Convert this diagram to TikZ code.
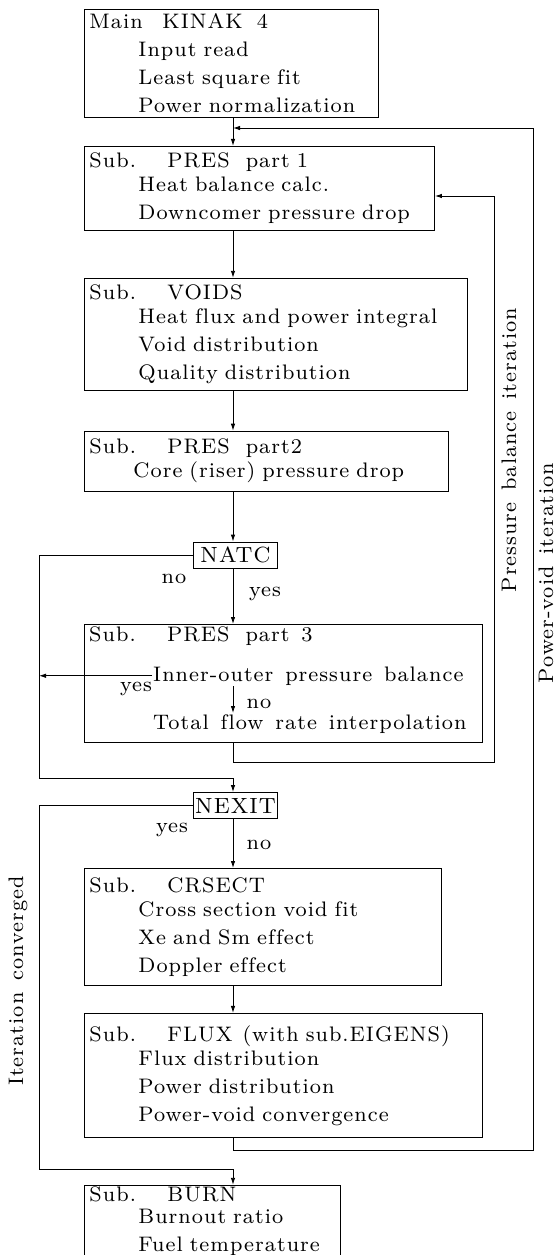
\documentclass[tikz,border=0pt]{standalone}
\usepackage{fontspec}
\newfontfamily\chartfont{lmroman8-regular.otf}[LetterSpace=5,WordSpace=1.4,Ligatures=NoCommon]
\usepackage{tikz}
\usetikzlibrary{arrows.meta, positioning}
\newcommand{\ind}{\hspace*{49pt}}
\newcommand{\head}[3]{\makebox[#1][l]{#2}#3}

\begin{document}
\begin{tikzpicture}[x=1pt, y=1pt, >=Latex,
  box/.style={draw, line width=0.9pt, align=left, inner xsep=5pt, inner ysep=3pt, font=\chartfont\fontsize{21}{28}\selectfont},
  test/.style={draw, line width=0.9pt, inner sep=2pt, minimum width=84pt, minimum height=26pt, font=\chartfont\fontsize{22}{24}\selectfont},
  txt/.style={inner sep=1pt, font=\chartfont\fontsize{21}{24}\selectfont},
  wire/.style={line width=0.9pt},
  arr/.style={wire, -{Latex[length=7pt,width=4.5pt]}}]
\useasboundingbox (0,0) rectangle (558,-1255);
\coordinate (trunk) at (233,0);
\coordinate (leftx) at (39,0);
\coordinate (pbal) at (494,-196);
\coordinate (pbalB) at (494,-762);
\coordinate (pv) at (533,-128);
\coordinate (pvB) at (533,-1150);
\coordinate (joinA) at (233,-778);
\coordinate (joinB) at (233,-1169);

\node[box, anchor=north west, text width=284pt, minimum height=108pt] (main) at (84,-9) {\head{73pt}{Main}{KINAK\hspace{14pt}4}\\\ind Input read\\\ind Least square fit\\\ind Power normalization};
\node[box, below=28pt of main.south west, anchor=north west, text width=340pt, minimum height=84pt] (presA) {\head{78pt}{Sub.}{PRES\hspace{16pt}part 1}\\[-4pt]\ind Heat balance calc.\\\ind Downcomer pressure drop};
\node[box, below=47pt of presA.south west, anchor=north west, text width=373pt, minimum height=112pt] (voids) {\head{78pt}{Sub.}{VOIDS}\\[-4pt]\ind Heat flux and power integral\\\ind Void distribution\\\ind Quality distribution};
\node[box, below=40pt of voids.south west, anchor=north west, text width=354pt, minimum height=60pt] (presB) {\head{78pt}{Sub.}{PRES\hspace{16pt}part2}\\[-4pt]\hspace*{44pt}Core (riser) pressure drop};
\node[test] (natc) at (235.5,-555) {NATC};

% part 3 holds the pressure balance test
\node[box, anchor=north west, text width=388pt, minimum height=118pt] (presC) at (84,-624) {};
\node[txt, anchor=north west, inner xsep=5pt, inner ysep=3pt] (presCt) at (presC.north west) {\head{78pt}{Sub.}{PRES\hspace{16pt}part 3}};
\node[txt, anchor=base west] (inner) at (152,-681) {Inner-outer pressure balance};
\node[txt, anchor=base west] (total) at (152,-729) {Total flow rate interpolation};

\node[test] (nexit) at (235.5,-805.5) {NEXIT};
\node[box, anchor=north west, text width=347pt, minimum height=117pt] (crsect) at (84,-868) {\head{78pt}{Sub.}{CRSECT}\\[-4pt]\ind Cross section void fit\\\ind Xe and Sm effect\\\ind Doppler effect};
\node[box, below=27pt of crsect.south west, anchor=north west, text width=388pt, minimum height=124pt] (flux) {\head{78pt}{Sub.}{FLUX\hspace{10pt}(with sub.EIGENS)}\\[-4pt]\ind Flux distribution\\\ind Power distribution\\\ind Power-void convergence};
\node[box, below=47pt of flux.south west, anchor=north west, text width=246pt, minimum height=70pt, inner ysep=1pt] (burn) {\head{78pt}{Sub.}{BURN}\\[-6pt]\ind Burnout ratio\\\ind Fuel temperature};

% yes / no
\node[txt, anchor=base] (natcno) at (174,-583) {no};
\node[txt, anchor=base] (natcyes) at (265,-596) {yes};
\node[txt, anchor=base] (balyes) at (136,-691) {yes};
\node[txt, anchor=base] (balno) at (259,-708) {no};
\node[txt, anchor=base] (nexityes) at (172,-832) {yes};
\node[txt, anchor=base] (nexitno) at (259,-849) {no};

% loop names
\node[txt, rotate=90] (pballbl) at (509,-450) {Pressure balance iteration};
\node[txt, rotate=90] (pvlbl) at (546,-573) {Power-void iteration};
\node[txt, rotate=90] (convlbl) at (18,-981) {Iteration converged};

\draw[arr] (main.south -| trunk) -- (presA.north -| trunk);
\draw[arr] (presA.south -| trunk) -- (voids.north -| trunk);
\draw[arr] (voids.south -| trunk) -- (presB.north -| trunk);
\draw[arr] (presB.south -| trunk) -- (natc.north -| trunk);
\draw[arr] (natc.south -| trunk) -- (presC.north -| trunk);
\draw[arr] (natc.west) -| (leftx |- joinA) -- (joinA) -- (nexit.north -| trunk);
\draw[arr] (inner.west) -- (inner.west -| leftx);
\draw[arr] (inner.south -| trunk) -- (total.north -| trunk);
\draw[arr] (presC.south -| trunk) |- (pbalB) -- (pbal) -- (pbal -| presA.east);
\draw[arr] (nexit.south -| trunk) -- (crsect.north -| trunk);
\draw[arr] (nexit.west) -| (leftx |- joinB) -- (joinB) -- (burn.north -| trunk);
\draw[arr] (crsect.south -| trunk) -- (flux.north -| trunk);
\draw[arr] (flux.south -| trunk) |- (pvB) -- (pv) -- (pv -| trunk);
\end{tikzpicture}
\end{document}
